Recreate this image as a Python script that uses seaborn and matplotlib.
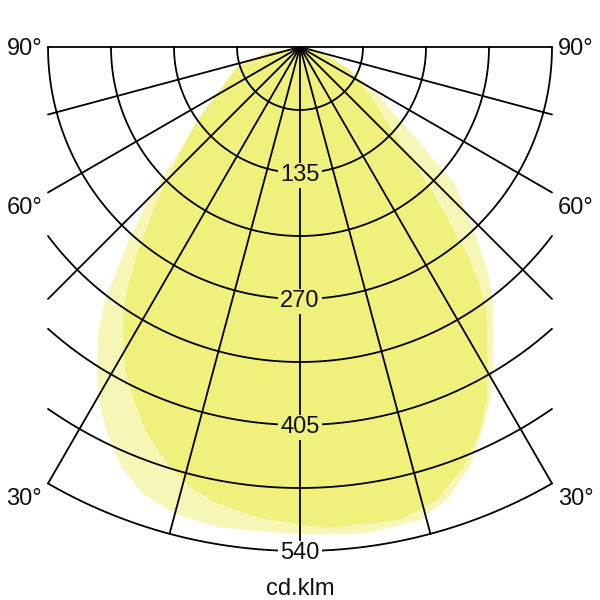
import numpy as np
import pandas as pd
import matplotlib
matplotlib.use("Agg")
import matplotlib.pyplot as plt
import seaborn as sns

# ---------------- data ----------------
ring_values = [67.5, 135, 202.5, 270, 337.5, 405, 472.5, 540]
label_values = [135, 270, 405, 540]
ring_labels = ["135", "270", "405", "540"]
spoke_angles = [-90, -75, -60, -45, -30, -15, 0, 15, 30, 45, 60, 75, 90]
angle_labels = ["90°", "60°", "30°"]
angle_label_y = [0, -170.4, -482.1]
unit_label = "cd.klm"

# saturated distribution (angle in degrees from nadir, value cd/klm)
s_angles = [-90, -79.7, -72.4, -61.7, -55.8, -52.0, -42.9, -38.6, -34.7, -31.75,
            -28.7, -25.3, -21.6, -17.2, -14.0, -10.3, -5.2, 0, 3.6, 8.4, 11.9,
            16.8, 21.2, 25.0, 27.9, 30.4, 33.2, 35.1, 36.9, 38.6, 39.6, 40.8,
            41.8, 43.4, 45.3, 48.4, 54.0, 65.3, 75.4, 90]
s_values = [0, 36, 71, 97, 126, 150, 224, 278, 330, 360,
            391, 418, 445, 471, 486, 497, 506, 512, 516, 516, 518,
            507, 483, 456, 428, 398, 366, 348, 321, 292, 264, 241,
            220, 192, 161, 129, 97, 59, 25, 0]

# pale distribution
p_angles = [-90, -79.7, -72.4, -61.7, -55.8, -49.4, -44.8, -40.8, -37.6, -35.2,
            -32.4, -29.7, -26.6, -23.0, -19.4, -15.2, -9.8, -2.7, 0, 7.8, 14.2,
            18.0, 22.0, 25.2, 28.3, 31.1, 34.0, 37.3, 39.8, 42.0, 44.5, 46.8,
            48.3, 49.4, 51.3, 54.2, 59.1, 65.3, 75.4, 90]
p_values = [0, 36, 71, 97, 126, 169, 231, 287, 342, 375,
            406, 435, 462, 489, 507, 517, 522, 521, 522, 526, 523,
            510, 485, 457, 430, 400, 370, 341, 315, 288, 260, 235,
            225, 198, 165, 128, 96, 59, 25, 0]

# ---------------- style ----------------
SAT = "#f0f07c"
PALE = "#f6f6b6"
HALF_W = 270.0
R_MAX = 540.0
LW = 1.3
FS = 17

sns.set_theme(style="white")
plt.rcParams['font.family'] = ['Liberation Sans', 'DejaVu Sans']

fig = plt.figure(figsize=(6, 6), dpi=100)
ax = fig.add_axes([0, 0, 1, 1])
px = 504.0 / 540.0
ax.set_xlim(-300 / px, 300 / px)
ax.set_ylim(-553 / px, 47 / px)
ax.set_aspect("equal")
ax.set_axis_off()


def to_xy(angles, values):
    t = np.deg2rad(np.asarray(angles, dtype=float))
    r = np.asarray(values, dtype=float)
    return r * np.sin(t), -r * np.cos(t)


# fills
px_, py_ = to_xy(p_angles, p_values)
ax.fill(px_, py_, color=PALE, lw=0, zorder=0.5)
sx_, sy_ = to_xy(s_angles, s_values)
ax.fill(sx_, sy_, color=SAT, lw=0, zorder=0.6)

# rings
rows = []
for r in ring_values:
    tmax = np.arcsin(min(1.0, HALF_W / r))
    t = np.linspace(-tmax, tmax, 400)
    for ti in t:
        rows.append({"x": r * np.sin(ti), "y": -r * np.cos(ti), "id": f"r{r}"})
# spokes
for a in spoke_angles:
    s = abs(np.sin(np.deg2rad(a)))
    L = R_MAX if s < 1e-9 else min(R_MAX, HALF_W / s)
    for frac in (0.0, 1.0):
        rows.append({"x": frac * L * np.sin(np.deg2rad(a)),
                     "y": -frac * L * np.cos(np.deg2rad(a)), "id": f"s{a}"})
grid = pd.DataFrame(rows)
sns.lineplot(data=grid, x="x", y="y", units="id", estimator=None, sort=False,
             color="black", linewidth=LW, ax=ax, legend=False, zorder=2)

# ring labels
half_digit = 0.716 * FS / 2
for v, lab in zip(label_values, ring_labels):
    fc = "white" if v == R_MAX else SAT
    ax.annotate(lab, (0, -v), xytext=(0, -half_digit), textcoords="offset points",
                ha="center", va="baseline", fontsize=FS, color="#111111", zorder=5,
                bbox=dict(boxstyle="square,pad=0.08", fc=fc, ec="none"))

# angle labels
for lab, yv in zip(angle_labels, angle_label_y):
    ax.annotate(lab, (-276.4, yv), xytext=(0, -half_digit), textcoords="offset points",
                ha="right", va="baseline", fontsize=FS, color="#111111")
    ax.annotate(lab, (276.4, yv), xytext=(0, -half_digit), textcoords="offset points",
                ha="left", va="baseline", fontsize=FS, color="#111111")

ax.text(0, -587.1, unit_label, ha="center", va="baseline", fontsize=FS, color="#111111")

fig.savefig("out.png", dpi=100)
